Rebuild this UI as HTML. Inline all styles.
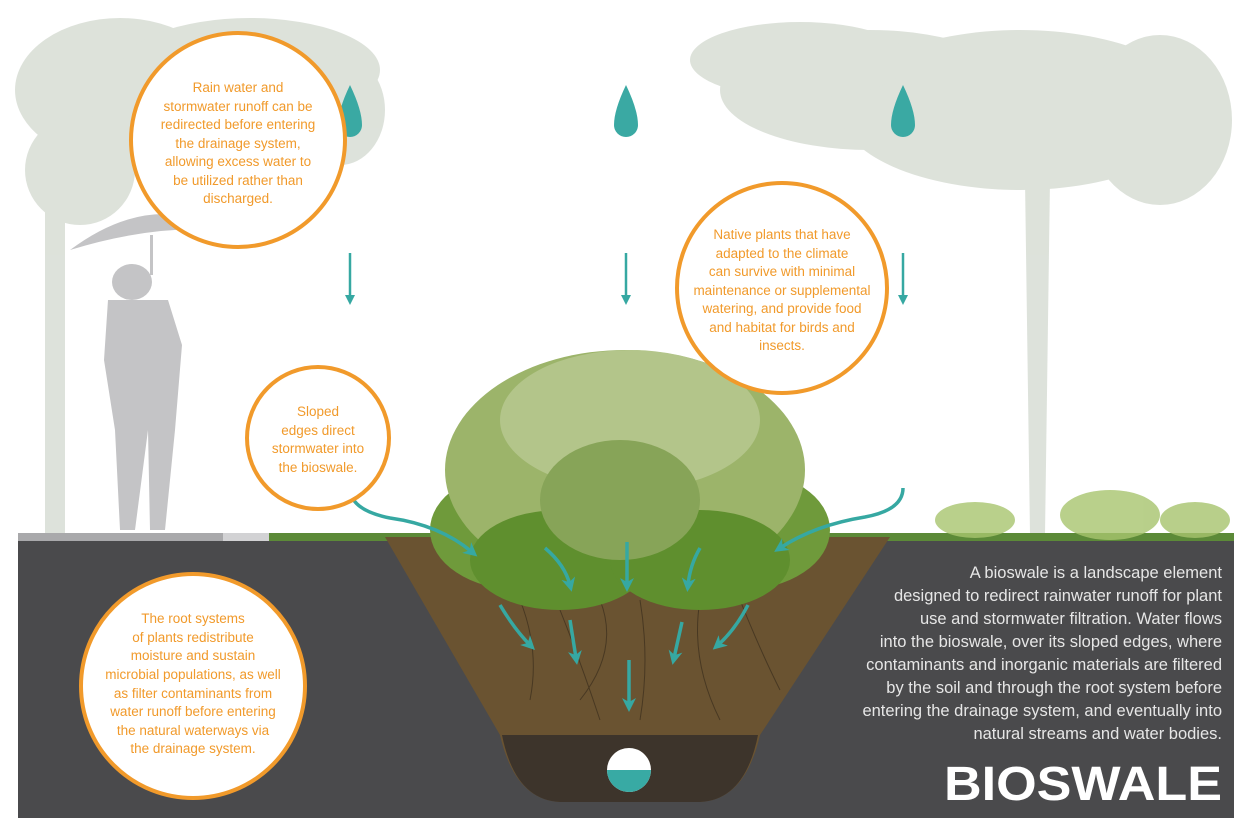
<!DOCTYPE html>
<html><head><meta charset="utf-8"><style>
body{margin:0;background:#fff;}
svg{display:block;font-family:"Liberation Sans",Arial,sans-serif;}
</style></head><body>
<svg width="1252" height="835" viewBox="0 0 1252 835" xmlns="http://www.w3.org/2000/svg">
<defs>
<marker id="ah" markerWidth="10" markerHeight="10" refX="5" refY="5" orient="auto" markerUnits="userSpaceOnUse" viewBox="0 0 10 10"><path d="M0,0 L10,5 L0,10 z" fill="#36a8a2"/></marker>
<marker id="ahb" markerWidth="14" markerHeight="14" refX="7" refY="7" orient="auto" markerUnits="userSpaceOnUse" viewBox="0 0 14 14"><path d="M0,0 L14,7 L0,14 L4,7 z" fill="#36a8a2"/></marker>
</defs>
<rect x="18" y="18" width="1216" height="520" fill="#fff"/>
<!-- trees -->
<g fill="#c7cfc3" opacity="0.6">
<ellipse cx="120" cy="90" rx="105" ry="72"/><ellipse cx="250" cy="70" rx="130" ry="52"/><ellipse cx="80" cy="170" rx="55" ry="55"/><ellipse cx="340" cy="110" rx="45" ry="55"/>
<rect x="45" y="150" width="20" height="385"/>
<ellipse cx="870" cy="90" rx="150" ry="60"/><ellipse cx="1020" cy="110" rx="180" ry="80"/><ellipse cx="1160" cy="120" rx="72" ry="85"/><ellipse cx="800" cy="60" rx="110" ry="38"/>
<path d="M1025 180 L1050 180 L1045 535 L1030 535 z"/>
</g>
<!-- person -->
<g fill="#c4c4c6">
<path d="M70 250 Q150 190 225 230 Q150 225 70 250z"/>
<rect x="150" y="235" width="3" height="40"/>
<ellipse cx="132" cy="282" rx="20" ry="18"/>
<path d="M108 300 L168 300 L182 345 L175 430 L165 530 L150 530 L148 430 L135 530 L120 530 L115 430 L104 360z"/>
</g>
<!-- ground -->
<rect x="18" y="533" width="205" height="10" fill="#a9a9ab"/>
<rect x="223" y="533" width="46" height="10" fill="#d2d2d4"/>
<rect x="269" y="533" width="965" height="10" fill="#5c8a38"/>
<rect x="18" y="541" width="1216" height="277" fill="#4a4a4c"/>
<!-- swale -->
<path d="M385 537 L890 537 L760 735 Q745 800 700 802 L560 802 Q515 800 500 735 z" fill="#6a5331"/>
<path d="M502 735 L758 735 Q745 800 700 802 L560 802 Q515 800 502 735z" fill="#3d342b"/>
<circle cx="629" cy="770" r="22" fill="#fff"/>
<path d="M607 770 A22 22 0 0 0 651 770 z" fill="#38aaa4"/>
<!-- roots -->
<g stroke="#3a2d1d" stroke-width="1" fill="none" opacity="0.7">
<path d="M520 600 Q540 650 530 700 M560 610 Q580 660 600 720 M640 600 Q650 660 640 720 M700 600 Q690 660 720 720 M740 600 Q760 650 780 690 M600 600 Q620 650 580 700"/>
</g>
<!-- bush -->
<g>
<ellipse cx="520" cy="530" rx="90" ry="60" fill="#6f9a3b"/>
<ellipse cx="740" cy="530" rx="90" ry="60" fill="#6f9a3b"/>
<ellipse cx="625" cy="470" rx="180" ry="120" fill="#9cb46a"/>
<ellipse cx="630" cy="420" rx="130" ry="70" fill="#b3c58a"/>
<ellipse cx="560" cy="560" rx="90" ry="50" fill="#5f8f2e"/>
<ellipse cx="700" cy="560" rx="90" ry="50" fill="#5f8f2e"/>
<ellipse cx="620" cy="500" rx="80" ry="60" fill="#87a458"/>
</g>
<g fill="#a7c46e" opacity="0.8">
<ellipse cx="975" cy="520" rx="40" ry="18"/><ellipse cx="1110" cy="515" rx="50" ry="25"/><ellipse cx="1195" cy="520" rx="35" ry="18"/>
</g>
<!-- drops -->
<g fill="#3aa9a3">
<path d="M350 85 Q338 110 338 125 A12 12 0 0 0 362 125 Q362 110 350 85z"/>
<path d="M626 85 Q614 110 614 125 A12 12 0 0 0 638 125 Q638 110 626 85z"/>
<path d="M903 85 Q891 110 891 125 A12 12 0 0 0 915 125 Q915 110 903 85z"/>
</g>
<g stroke="#36a8a2" stroke-width="2.5" fill="none" marker-end="url(#ah)">
<line x1="350" y1="253" x2="350" y2="300"/><line x1="626" y1="253" x2="626" y2="300"/><line x1="903" y1="253" x2="903" y2="300"/>
</g>
<g stroke="#36a8a2" stroke-width="3.5" fill="none" marker-end="url(#ahb)">
<path d="M350 488 Q350 510 390 518 Q440 525 472 552"/>
<path d="M903 488 Q903 510 865 517 Q815 525 780 548"/>
<path d="M545 548 Q565 565 570 585"/><path d="M627 542 L627 585"/><path d="M700 548 Q690 565 688 585"/>
<path d="M500 605 Q515 630 530 645"/><path d="M570 620 L576 658"/><path d="M682 622 L674 658"/><path d="M748 605 Q735 630 718 645"/>
<path d="M629 660 L629 705"/>
</g>
<!-- circles -->
<g fill="#fff" stroke="#f19a2b" stroke-width="4">
<circle cx="238" cy="140" r="107"/>
<circle cx="782" cy="288" r="105"/>
<circle cx="318" cy="438" r="71"/>
<circle cx="193" cy="686" r="112"/>
</g>
<g fill="#f19a2b" font-size="13.5" text-anchor="middle">
<text x="238" y="92">Rain water and</text><text x="238" y="111">stormwater runoff can be</text><text x="238" y="129">redirected before entering</text><text x="238" y="148">the drainage system,</text><text x="238" y="166">allowing excess water to</text><text x="238" y="185">be utilized rather than</text><text x="238" y="203">discharged.</text>
<text x="782" y="239">Native plants that have</text><text x="782" y="258">adapted to the climate</text><text x="782" y="276">can survive with minimal</text><text x="782" y="295">maintenance or supplemental</text><text x="782" y="313">watering, and provide food</text><text x="782" y="332">and habitat for birds and</text><text x="782" y="350">insects.</text>
<text x="318" y="416">Sloped</text><text x="318" y="435">edges direct</text><text x="318" y="453">stormwater into</text><text x="318" y="472">the bioswale.</text>
<text x="193" y="623">The root systems</text><text x="193" y="642">of plants redistribute</text><text x="193" y="660">moisture and sustain</text><text x="193" y="679">microbial populations, as well</text><text x="193" y="698">as filter contaminants from</text><text x="193" y="716">water runoff before entering</text><text x="193" y="735">the natural waterways via</text><text x="193" y="753">the drainage system.</text>
</g>
<g fill="#e6e6e6" font-size="16.5" text-anchor="end">
<text x="1222" y="578">A bioswale is a landscape element</text><text x="1222" y="601">designed to redirect rainwater runoff for plant</text><text x="1222" y="624">use and stormwater filtration. Water flows</text><text x="1222" y="647">into the bioswale, over its sloped edges, where</text><text x="1222" y="670">contaminants and inorganic materials are filtered</text><text x="1222" y="693">by the soil and through the root system before</text><text x="1222" y="716">entering the drainage system, and eventually into</text><text x="1222" y="739">natural streams and water bodies.</text>
</g>
<text x="1222" y="800" fill="#fff" font-size="48" font-weight="bold" text-anchor="end" textLength="278" lengthAdjust="spacingAndGlyphs">BIOSWALE</text>
</svg>
</body></html>
